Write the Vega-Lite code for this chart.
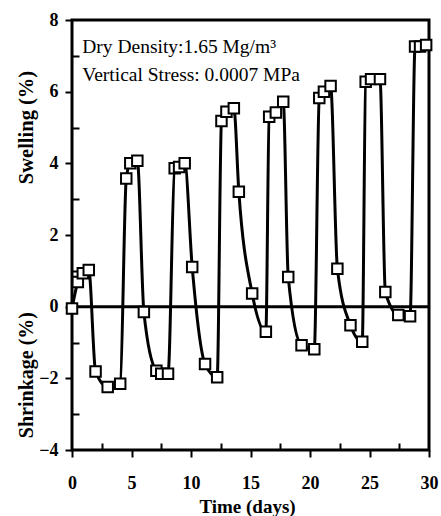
{
  "$schema": "https://vega.github.io/schema/vega-lite/v6.json",
  "width": 357,
  "height": 430,
  "autosize": {"type": "none"},
  "padding": {"left": 72, "top": 20, "right": 12, "bottom": 66},
  "background": "white",
  "config": {
    "view": {"stroke": "black", "strokeWidth": 3},
    "axis": {
      "domain": false,
      "grid": false,
      "labelFont": "Liberation Serif, DejaVu Serif, serif",
      "labelFontWeight": "bold",
      "labelFontSize": 18,
      "labelColor": "black",
      "tickColor": "black",
      "tickWidth": 2,
      "titleFont": "Liberation Serif, DejaVu Serif, serif",
      "titleFontWeight": "bold",
      "titleFontSize": 19,
      "titleColor": "black",
      "labelFlush": false,
      "labelOverlap": false
    }
  },
  "resolve": {"axis": {"x": "independent", "y": "independent"}},
  "datasets": {
    "swell": [
      {"t": 0, "v": -0.05},
      {"t": 0.49, "v": 0.69},
      {"t": 0.91, "v": 0.93},
      {"t": 1.41, "v": 1.02},
      {"t": 1.98, "v": -1.81},
      {"t": 3.0, "v": -2.24},
      {"t": 4.05, "v": -2.15},
      {"t": 4.56, "v": 3.58},
      {"t": 4.9, "v": 4.0},
      {"t": 5.49, "v": 4.07},
      {"t": 6.04, "v": -0.15},
      {"t": 7.09, "v": -1.79},
      {"t": 7.5, "v": -1.87},
      {"t": 8.07, "v": -1.87},
      {"t": 8.63, "v": 3.86},
      {"t": 9.0, "v": 3.9},
      {"t": 9.47, "v": 4.0},
      {"t": 10.1, "v": 1.11},
      {"t": 11.18, "v": -1.6},
      {"t": 12.2, "v": -1.97},
      {"t": 12.56, "v": 5.18},
      {"t": 12.98, "v": 5.44},
      {"t": 13.6, "v": 5.54},
      {"t": 14.02, "v": 3.21},
      {"t": 15.14, "v": 0.37},
      {"t": 16.29, "v": -0.7},
      {"t": 16.57, "v": 5.3},
      {"t": 17.13, "v": 5.42},
      {"t": 17.75, "v": 5.72},
      {"t": 18.17, "v": 0.83},
      {"t": 19.29, "v": -1.08},
      {"t": 20.36, "v": -1.19},
      {"t": 20.78, "v": 5.82},
      {"t": 21.17, "v": 6.0},
      {"t": 21.73, "v": 6.16},
      {"t": 22.3, "v": 1.06},
      {"t": 23.4, "v": -0.52},
      {"t": 24.39, "v": -0.98},
      {"t": 24.68, "v": 6.28},
      {"t": 25.13, "v": 6.35},
      {"t": 25.88, "v": 6.35},
      {"t": 26.33, "v": 0.41},
      {"t": 27.42, "v": -0.23},
      {"t": 28.41, "v": -0.27},
      {"t": 28.83, "v": 7.26},
      {"t": 29.25, "v": 7.26},
      {"t": 29.76, "v": 7.3}
    ]
  },
  "layer": [
    {
      "data": {"name": "swell"},
      "mark": {"type": "line", "color": "black", "strokeWidth": 3, "interpolate": "monotone", "clip": false},
      "encoding": {
        "x": {
          "field": "t",
          "type": "quantitative",
          "scale": {"domain": [0, 30], "nice": false, "zero": false},
          "axis": {
            "orient": "bottom",
            "title": "Time (days)",
            "titlePadding": 5,
            "titleX": 175,
            "values": [0, 5, 10, 15, 20, 25, 30],
            "tickSize": 7,
            "labelPadding": 17
          }
        },
        "y": {
          "field": "v",
          "type": "quantitative",
          "scale": {"domain": [-4, 8], "nice": false, "zero": false},
          "axis": {
            "orient": "left",
            "title": null,
            "values": [-4, -2, 0, 2, 4, 6, 8],
            "tickSize": 7,
            "labelPadding": 7
          }
        }
      }
    },
    {
      "data": {"values": [{}]},
      "mark": {"type": "rule", "color": "black", "strokeWidth": 3},
      "encoding": {"y": {"datum": 0, "axis": null}}
    },
    {
      "data": {"name": "swell"},
      "mark": {"type": "point", "shape": "square", "filled": true, "fill": "white", "stroke": "black", "strokeWidth": 2, "size": 110, "opacity": 1, "clip": false},
      "encoding": {
        "x": {
          "field": "t",
          "type": "quantitative",
          "axis": {"orient": "bottom", "title": null, "labels": false, "values": [2.5, 7.5, 12.5, 17.5, 22.5, 27.5], "tickSize": -7}
        },
        "y": {
          "field": "v",
          "type": "quantitative",
          "axis": {"orient": "left", "title": null, "labels": false, "values": [-3, -1, 1, 3, 5, 7], "tickSize": -7}
        }
      }
    },
    {
      "data": {"values": [{}]},
      "mark": {"type": "text", "align": "left", "baseline": "middle", "font": "Liberation Serif, DejaVu Serif, serif", "fontSize": 19.5, "color": "black"},
      "encoding": {
        "x": {"datum": 0.86, "axis": null},
        "y": {"datum": 7.25, "axis": null},
        "text": {"value": "Dry Density:1.65 Mg/m³"}
      }
    },
    {
      "data": {"values": [{}]},
      "mark": {"type": "text", "align": "left", "baseline": "middle", "font": "Liberation Serif, DejaVu Serif, serif", "fontSize": 19.5, "color": "black"},
      "encoding": {
        "x": {"datum": 0.86, "axis": null},
        "y": {"datum": 6.47, "axis": null},
        "text": {"value": "Vertical Stress: 0.0007 MPa"}
      }
    },
    {
      "data": {"values": [{}]},
      "mark": {"type": "text", "align": "center", "baseline": "middle", "angle": 270, "font": "Liberation Serif, DejaVu Serif, serif", "fontWeight": "bold", "fontSize": 20.5, "color": "black", "clip": false},
      "encoding": {
        "x": {"datum": -3.75, "axis": null},
        "y": {"datum": 5.0, "axis": null},
        "text": {"value": "Swelling (%)"}
      }
    },
    {
      "data": {"values": [{}]},
      "mark": {"type": "text", "align": "center", "baseline": "middle", "angle": 270, "font": "Liberation Serif, DejaVu Serif, serif", "fontWeight": "bold", "fontSize": 20, "color": "black", "clip": false},
      "encoding": {
        "x": {"datum": -3.75, "axis": null},
        "y": {"datum": -1.91, "axis": null},
        "text": {"value": "Shrinkage (%)"}
      }
    }
  ]
}
